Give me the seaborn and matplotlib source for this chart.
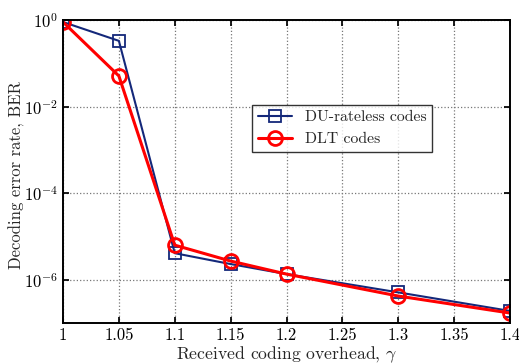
import matplotlib
matplotlib.use("Agg")
import matplotlib.pyplot as plt
import seaborn as sns
import pandas as pd
import numpy as np

overhead = [1.0, 1.05, 1.1, 1.15, 1.2, 1.3, 1.4]
ber_du = [0.9, 0.33, 4.1e-6, 2.3e-6, 1.35e-6, 5.1e-7, 1.9e-7]
ber_dlt = [0.9, 0.051, 6.3e-6, 2.7e-6, 1.35e-6, 4.2e-7, 1.7e-7]
labels = ["DU-rateless codes", "DLT codes"]
xticks = [1, 1.05, 1.1, 1.15, 1.2, 1.25, 1.3, 1.35, 1.4]
xticklabels = ["1", "1.05", "1.1", "1.15", "1.2", "1.25", "1.3", "1.35", "1.4"]

sns.set_theme(style="white")
plt.rcParams['font.family'] = ['cmr10', 'DejaVu Serif']
plt.rcParams['mathtext.fontset'] = 'cm'
plt.rcParams['axes.formatter.use_mathtext'] = True

fig = plt.figure(figsize=(5.19, 3.64), dpi=100)
ax = fig.add_axes([0.1214, 0.1126, 0.8613, 0.8324])

df = pd.DataFrame({"x": overhead * 2, "y": ber_du + ber_dlt,
                   "s": [labels[0]] * 7 + [labels[1]] * 7})

sns.lineplot(data=df[df.s == labels[0]], x="x", y="y", ax=ax, color="#14287a",
             marker="s", markersize=8, markerfacecolor="none", markeredgecolor="#14287a",
             markeredgewidth=1.3, linewidth=1.5, label=labels[0])
sns.lineplot(data=df[df.s == labels[1]], x="x", y="y", ax=ax, color="#ff0000",
             marker="o", markersize=10, markerfacecolor="none", markeredgecolor="#ff0000",
             markeredgewidth=2, linewidth=2.2, label=labels[1])

ax.set_yscale("log")
ax.set_xlim(1, 1.4)
ax.set_ylim(1e-7, 1)
ax.set_yticks([1, 1e-2, 1e-4, 1e-6])
ax.set_yticks([], minor=True)
ax.set_xticks(xticks)
ax.set_xticklabels(xticklabels)
ax.grid(True, linestyle=":", color="#777777", linewidth=0.9)
for sp in ax.spines.values():
    sp.set_color("black")
    sp.set_linewidth(1.4)
ax.tick_params(direction="in", length=4, labelsize=12, colors="black",
               top=True, right=True, bottom=True, left=True)
ax.set_xlabel(r"Received coding overhead, $\gamma$", fontsize=12.7, labelpad=1)
ax.set_ylabel("Decoding error rate, BER", fontsize=12)
ax.yaxis.set_label_coords(-0.084, 0.488)
leg = ax.legend(loc="upper left", bbox_to_anchor=(0.423, 0.72), fontsize=11.3,
                frameon=True, fancybox=False, edgecolor="black", borderpad=0.35,
                handlelength=2.2, labelspacing=0.5, borderaxespad=0)
leg.get_frame().set_linewidth(1.0)
fig.savefig("out.png", dpi=100)
